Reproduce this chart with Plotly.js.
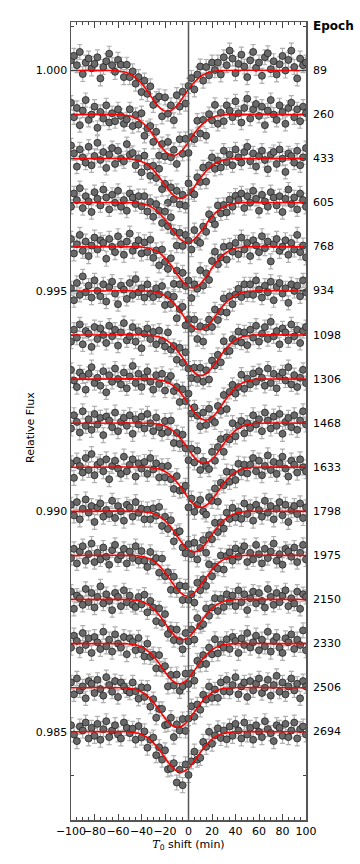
<!DOCTYPE html>
<html>
<head>
<meta charset="utf-8">
<script src="https://cdn.plot.ly/plotly-3.0.1.min.js"></script>
<style>
  html, body { margin: 0; padding: 0; background: #fff; }
  #chart { width: 360px; height: 864px; }
</style>
</head>
<body>
<div id="chart"></div>
<script>
// Transit epochs, stacked with an offset of 0.001 in flux
const epochs = ['89', '260', '433', '605', '768', '934', '1098', '1306', '1468', '1633', '1798', '1975', '2150', '2330', '2506', '2694'];
const baselines = [1.000, 0.999, 0.998, 0.997, 0.996, 0.995, 0.994, 0.993, 0.992, 0.991, 0.990, 0.989, 0.988, 0.987, 0.986, 0.985];

// fitted mid-transit shift (min) and depth (units of 1e-5) of the red model
const centers = [-18, -13, -7, -1, 3.4, 9.4, 10.5, 14.6, 13.3, 10.5, 4.8, -0.9, -5.1, -7.9, -9.4, -6.5];
const depths = [93, 93, 90, 90, 93, 88, 92, 93, 91, 91, 92, 92, 91, 91, 90, 91];
// typical error bar (units of 1e-5)
const errs = [17, 16, 16, 16, 17, 16, 16, 16, 17, 17, 17, 16, 16, 17, 16, 17];

// model transit shape: offset from mid-transit (min) and fraction of depth
const profileDt = [-45, -42.5, -40, -37.5, -35, -32.5, -30, -27.5, -25, -22.5, -20, -17.5, -15, -12.5, -10, -7.5, -5, -2.5, 0,
  2.5, 5, 7.5, 10, 12.5, 15, 17.5, 20, 22.5, 25, 27.5, 30, 32.5, 35, 37.5, 40, 42.5, 45];
const profileFrac = [0, 0.01, 0.02, 0.03, 0.05, 0.08, 0.115, 0.165, 0.225, 0.30, 0.385, 0.48, 0.585, 0.69, 0.79, 0.875, 0.94, 0.985, 1,
  0.985, 0.94, 0.875, 0.79, 0.69, 0.585, 0.48, 0.385, 0.30, 0.225, 0.165, 0.115, 0.08, 0.05, 0.03, 0.02, 0.01, 0];

// time of each point relative to predicted T0 (min)
const times = [-100, -97.5, -95, -92.5, -90, -87.5, -85, -82.5, -80, -77.5, -75, -72.5, -70, -67.5, -65, -62.5, -60, -57.5, -55, -52.5,
  -50, -47.5, -45, -42.5, -40, -37.5, -35, -32.5, -30, -27.5, -25, -22.5, -20, -17.5, -15, -12.5, -10, -7.5, -5, -2.5,
  0, 2.5, 5, 7.5, 10, 12.5, 15, 17.5, 20, 22.5, 25, 27.5, 30, 32.5, 35, 37.5, 40, 42.5, 45, 47.5,
  50, 52.5, 55, 57.5, 60, 62.5, 65, 67.5, 70, 72.5, 75, 77.5, 80, 82.5, 85, 87.5, 90, 92.5, 95, 97.5, 100];

// flux of each point minus its epoch baseline, units of 1e-5
const f89 = [23,33,12,42,-8,18,27,5,15,30,-18,8,21,38,12,-3,24,
  13,-15,13,-15,-2,-30,-15,-49,-23,-53,-36,-78,-65,-59,-104,-61,-98,-79,-113,-56,-82,-48,-75,-35,-17,-43,-9,9,-23,8,-11,18,1,
  18,-9,30,12,45,27,-6,15,36,9,-15,23,42,6,18,-12,30,39,3,21,-9,14,33,0,24,45,8,-18,27,12,18];
const f260 = [27,-6,15,-24,9,33,-12,0,18,-30,6,-9,21,-18,3,-15,12,-3,-21,
  -11,12,-26,-1,-23,3,-48,-31,-26,-62,-39,-93,-67,-95,-62,-97,-80,-112,-56,-89,-55,-87,-51,-56,-14,-43,-12,-48,1,-13,22,-21,4,
  -15,21,9,-6,30,3,-18,15,36,-9,12,24,-3,18,-24,9,33,0,-12,21,6,-21,15,27,-6,12,-15,18,3];
const f433 = [30,12,-18,21,3,-9,27,-15,6,36,-3,15,-21,9,24,-12,18,0,-6,33,9,
  13,-15,1,-31,7,-18,-39,-16,-44,-23,-69,-57,-100,-65,-92,-73,-104,-82,-107,-56,-76,-81,-42,-53,-20,-52,-15,3,-23,-4,-20,18,-8,
  9,-15,21,3,-9,15,27,-6,12,-18,6,18,-3,-24,9,15,-12,21,0,-30,12,6,-9,18,-15,3,24];
const f605 = [-9,21,6,33,-12,15,3,-21,24,9,-6,30,12,-15,18,0,27,-9,6,-18,21,12,-3,15,
  -8,15,-20,2,-32,-3,-18,-46,-20,-53,-33,-66,-97,-68,-98,-73,-86,-106,-62,-86,-91,-54,-66,-26,-38,-49,-6,-24,-5,-22,7,-9,16,
  6,21,-12,15,0,27,9,-18,18,3,-9,24,12,-6,15,-21,9,30,-3,12,-15,21,6,-9];
const f768 = [18,-15,6,27,-9,12,-21,3,21,-6,15,9,-27,18,0,-12,24,6,-18,12,30,-9,3,15,-15,
  10,-12,16,-25,-8,-42,-6,-34,-50,-26,-84,-54,-85,-59,-89,-76,-116,-85,-95,-53,-88,-60,-75,-32,-11,-40,-24,0,-29,2,-11,9,-17,
  21,-6,9,-21,15,3,-12,24,-3,12,-33,6,18,-9,0,15,-18,9,-6,27,-12,3,-24];
const f934 = [6,-21,18,-9,33,-3,12,-15,24,0,-12,15,-24,9,21,-6,-30,12,3,-18,18,-9,27,-3,6,-15,15,-6,
  -14,6,-8,11,-32,-9,-30,-13,-62,-41,-36,-78,-64,-86,-65,-109,-80,-115,-83,-65,-82,-42,-66,-47,-17,-49,-12,-30,-8,5,-14,15,-8,
  15,-9,24,3,-15,12,-3,21,-21,9,18,-6,6,-27,15,0,12,-12,24,-3];
const f1098 = [-15,12,-6,24,-21,9,3,-27,18,-9,15,0,-18,21,-3,12,-24,6,27,-12,-3,18,-15,9,-30,3,15,-9,
  7,-21,10,-13,-26,6,-33,-25,-56,-29,-63,-39,-76,-98,-74,-100,-74,-106,-80,-101,-58,-69,-45,-62,-14,-37,-36,-9,-14,8,-17,6,-23,
  12,-6,21,-15,3,18,-9,30,-3,9,-21,15,6,-12,24,-3,12,-18,9,18];
const f1306 = [21,-3,-18,15,6,-24,12,27,-9,3,-15,18,-30,9,-6,24,0,-12,15,-21,6,30,-9,12,-18,3,18,-6,-24,9,
  -11,12,-26,-1,7,-27,-18,-52,-23,-50,-33,-78,-64,-83,-107,-76,-104,-67,-92,-98,-61,-72,-36,-68,-29,-13,-33,-18,10,-22,1,-12,13,
  -6,18,3,-15,24,-9,12,-21,6,15,-3,27,-12,9,-18,3,21,-9];
const f1468 = [-12,18,3,-21,27,-6,9,-15,21,-3,12,-27,15,6,-9,24,-18,3,12,-6,18,-24,9,-3,15,-12,21,0,-18,
  13,-9,-23,5,-20,6,-45,-22,-47,-26,-57,-84,-58,-89,-62,-106,-86,-97,-104,-65,-85,-54,-36,-65,-32,-37,0,-30,-5,5,-23,0,-11,
  18,-3,9,-18,24,6,-12,15,-6,21,-24,3,12,-9,18,-15,6,27,-3];
const f1633 = [9,-24,15,3,-12,21,-6,30,-18,6,12,-9,18,-27,3,15,-3,-15,24,-9,6,18,-21,9,-3,12,-15,21,
  -5,9,-23,2,-23,3,-27,-49,-20,-53,-51,-42,-91,-71,-101,-85,-74,-100,-107,-68,-76,-48,-78,-35,-41,-10,-33,-12,-29,8,-11,6,-14,
  6,21,-9,15,-18,3,27,-6,12,-15,9,24,-3,-21,15,6,-12,18,0,-9];
const f1798 = [15,-9,21,-18,6,27,-3,12,-24,9,18,-12,3,-6,24,-15,12,0,-21,15,9,-12,21,-3,6,-18,
  4,-18,7,-10,10,-33,-12,-40,-20,-68,-48,-45,-82,-95,-74,-97,-71,-109,-83,-65,-94,-54,-63,-26,-47,-25,-39,-3,-17,8,-14,0,-17,
  18,-6,9,-21,15,3,-12,24,-3,12,-18,6,21,-9,15,-24,3,12,-6,18,-15,9];
const f1975 = [-6,15,-18,9,21,-12,3,27,-15,6,-9,18,-3,-21,12,24,-9,0,15,-18,9,-6,21,-12,
  10,-12,-26,8,-14,-6,-39,-7,-47,-38,-78,-48,-79,-68,-101,-70,-101,-88,-107,-62,-79,-54,-69,-20,-47,-25,-30,0,-32,-1,7,-12,16,
  -3,12,21,-15,6,-9,24,3,-18,15,-6,9,27,-12,3,-21,15,9,-3,18,-15,6,24,-9];
const f2150 = [18,-21,9,3,-12,24,-6,15,-18,6,30,-9,12,-3,-24,15,6,-15,21,-6,9,-12,
  -17,6,-11,11,-29,-3,-18,-49,-20,-53,-33,-78,-67,-92,-68,-94,-113,-76,-95,-68,-91,-42,-60,-56,-20,-37,-18,3,-26,2,-17,12,-5,
  9,-15,21,-6,12,-24,3,18,-9,15,-3,-18,24,6,-12,15,-6,9,21,-15,3,-9,18,-21,12,6];
const f2330 = [-9,18,6,-15,24,-3,12,-21,15,3,-12,27,-6,9,-18,21,0,-9,15,-24,12,
  4,-15,13,-13,-29,0,-30,-25,-56,-26,-57,-51,-97,-71,-95,-70,-107,-97,-68,-92,-67,-84,-39,-47,-26,-46,-9,-24,10,-22,-2,-9,10,
  -12,15,6,-21,12,-3,24,-9,3,18,-15,9,-6,27,-18,6,15,-9,-21,12,3,21,-12,9,-3,30,-15];
const f2506 = [12,-15,21,-6,3,-24,15,9,-12,18,-3,-18,24,6,-9,15,-21,12,3,-6,
  -11,12,-8,-25,1,-21,0,-43,-26,-68,-48,-48,-85,-83,-68,-112,-83,-97,-71,-98,-70,-42,-66,-38,-50,-16,-27,3,-23,-4,-23,12,-8,
  18,-9,6,24,-15,3,12,-21,15,-6,9,21,-12,0,18,-18,6,27,-9,12,-15,3,21,-6,9,-24,15,3];
const f2694 = [15,-6,-21,12,3,21,-15,9,-9,18,-18,6,24,-12,3,15,-6,-15,21,9,-3,
  7,-18,13,-13,1,-36,-18,-13,-53,-35,-63,-42,-85,-83,-71,-115,-86,-121,-74,-98,-67,-45,-63,-59,-23,-34,0,-27,-8,8,-14,3,-17,
  12,-9,18,3,-15,21,-6,9,-18,15,0,-12,24,6,-3,-21,15,9,-9,18,-12,3,21,-15,6,12,-6];
const fluxSets = [f89, f260, f433, f605, f768, f934, f1098, f1306, f1468, f1633, f1798, f1975, f2150, f2330, f2506, f2694];

const traces = [];
const models = [];
const annotations = [];

for (let k = 0; k < epochs.length; k++) {
    const base = baselines[k];
    const flux = fluxSets[k].map(v => base + v * 1e-5);

    traces.push({
        x: times,
        y: flux,
        type: 'scatter',
        mode: 'markers',
        marker: { size: 7, color: '#6a6a6a', line: { color: '#222', width: 0.8 } },
        error_y: { type: 'constant', value: errs[k] * 1e-5, color: '#b0b0b0', thickness: 1.2, width: 2.5 },
        hoverinfo: 'skip',
        showlegend: false
    });

    // red transit model for this epoch
    const mx = [-100].concat(profileDt.map(d => centers[k] + d), [100]);
    const my = [base].concat(profileFrac.map(p => base - p * depths[k] * 1e-5), [base]);
    models.push({
        x: mx,
        y: my,
        type: 'scatter',
        mode: 'lines',
        line: { color: 'red', width: 1.6, shape: 'spline', smoothing: 0.8 },
        hoverinfo: 'skip',
        showlegend: false
    });

    annotations.push({
        x: 1, xref: 'paper', xanchor: 'left', xshift: 5,
        y: base, yref: 'y', yanchor: 'middle',
        text: epochs[k], showarrow: false,
        font: { size: 11, color: '#000' }
    });
}

annotations.push({
    x: 1, xref: 'paper', xanchor: 'left', xshift: 5,
    y: 1, yref: 'paper', yanchor: 'middle', yshift: -4,
    text: '<b>Epoch</b>', showarrow: false,
    font: { size: 12, color: '#000' }
});
annotations.push({
    x: 0, xref: 'paper', xanchor: 'center', xshift: -41,
    y: 0.5, yref: 'paper', yanchor: 'middle', yshift: -7,
    text: 'Relative Flux', textangle: -90, showarrow: false,
    font: { size: 11, color: '#000' }
});

const xTicks = [-100, -80, -60, -40, -20, 0, 20, 40, 60, 80, 100];
const yTicks = [0.985, 0.990, 0.995, 1.000];

const layout = {
    width: 360,
    height: 864,
    margin: { l: 71, r: 54, t: 22, b: 44 },
    paper_bgcolor: '#fff',
    plot_bgcolor: '#fff',
    font: { family: 'DejaVu Sans, sans-serif', size: 11, color: '#000' },
    showlegend: false,
    xaxis: {
        range: [-100, 100],
        tickvals: xTicks,
        ticktext: xTicks.map(v => String(v).replace('-', '\u2212')),
        tickangle: 0,
        ticks: 'inside', ticklen: 6, tickcolor: '#444',
        minor: { ticks: 'inside', ticklen: 3, dtick: 5, tickcolor: '#444' },
        showline: true, linecolor: '#555', linewidth: 1.5, mirror: 'allticks',
        showgrid: false, zeroline: false,
        title: { text: '<i style="font-family:DejaVu Serif">T</i><sub>0</sub> shift (min)', font: { size: 11 }, standoff: 3 }
    },
    yaxis: {
        range: [0.983, 1.0011],
        tickvals: yTicks,
        ticktext: yTicks.map(v => v.toFixed(3)),
        ticks: 'inside', ticklen: 6, tickcolor: '#444',
        minor: { ticks: 'inside', ticklen: 3, dtick: 0.001, tickcolor: '#444' },
        showline: true, linecolor: '#555', linewidth: 1.5, mirror: 'allticks',
        showgrid: false, zeroline: false
    },
    shapes: [{
        type: 'line', xref: 'x', yref: 'paper',
        x0: 0, x1: 0, y0: 0, y1: 1,
        line: { color: '#555', width: 1.5 }
    }],
    annotations: annotations
};

Plotly.newPlot('chart', traces.concat(models), layout, { staticPlot: true });
</script>
</body>
</html>
